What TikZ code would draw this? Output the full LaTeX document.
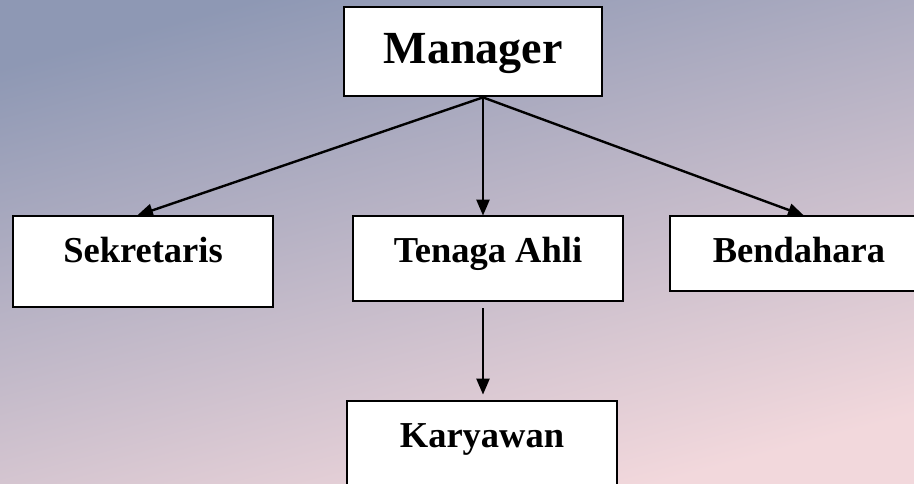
\documentclass[tikz,border=0pt]{standalone}
\usepackage{fontspec}
\setmainfont{Liberation Serif}
\usetikzlibrary{arrows.meta,positioning}
\definecolor{latarA}{RGB}{142,152,180}
\definecolor{latarB}{RGB}{200,162,178}
\definecolor{latarC}{RGB}{242,216,220}

\begin{document}
\begin{tikzpicture}[x=1pt, y=-1pt]
            \tikzstyle{jabatan} = [draw=black, fill=white, line width=2.8pt, inner sep=0pt, font=\bfseries\fontsize{36.5}{40}\selectfont]
            \tikzstyle{garis} = [-{Triangle[length=16pt, width=13pt]}, line width=2.4pt, draw=black]
            \useasboundingbox (0, 0) rectangle (914, 483);
            \clip (0, 0) rectangle (914, 483);
            \shade[top color=latarA, middle color=latarB, bottom color=latarC, shading angle=15] (0, 0) rectangle (914, 483);
            \node[jabatan, minimum width=258pt, text height=56pt, text depth=33pt, font=\bfseries\fontsize{46}{50}\selectfont] (mgr) at (473, 51.5) {Manager};
            \node[jabatan, minimum width=260pt, text height=46.5pt, text depth=44.5pt] (sek) at (143, 261.5) {Sekretaris};
            \node[jabatan, minimum width=270pt, text height=46.5pt, text depth=38.5pt] (ten) at (488, 258.5) {Tenaga Ahli};
            \node[jabatan, minimum width=258pt, text height=46.5pt, text depth=28.5pt] (ben) at (799, 253.5) {Bendahara};
            \node[jabatan, minimum width=270pt, text height=46.5pt, text depth=44.5pt] (kar) at (482, 446.5) {Karyawan};
            \coordinate (mgr-out) at ([xshift=10pt]mgr.south);
            \draw[garis] (mgr-out) -- ([xshift=-6pt, yshift=-1pt]sek.north);
            \draw[garis] (mgr-out) -- ([xshift=-5pt, yshift=-1pt]ten.north);
            \draw[garis] (mgr-out) -- ([xshift=5pt, yshift=-1pt]ben.north);
            \draw[garis, shorten <=6pt, shorten >=5pt] ([xshift=-5pt]ten.south) -- ([xshift=1pt]kar.north);
        \end{tikzpicture}
\end{document}
